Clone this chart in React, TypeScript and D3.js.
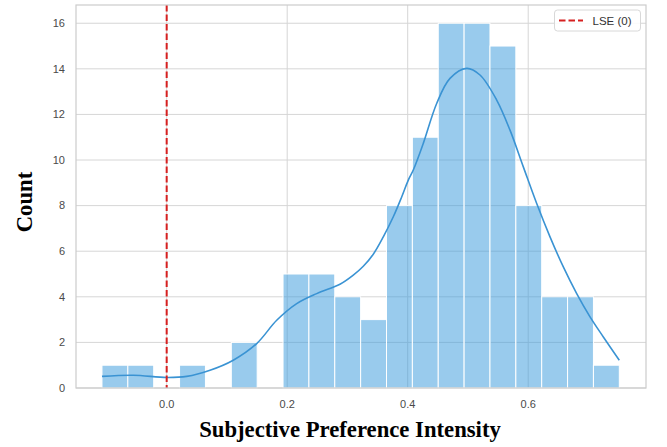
import React, { useRef, useEffect } from 'react';
import * as d3 from 'd3';

// histogram counts (20 equal bins from binStart to binEnd)
const binCounts = [1, 1, 0, 1, 0, 2, 0, 5, 5, 4, 3, 8, 11, 16, 16, 15, 8, 4, 4, 1];
const binStart = -0.1074;
const binEnd = 0.7512;

// KDE curve (scaled to counts)
const kdeX = [
  -0.1074, -0.0554, 0.0, 0.0332, 0.0719, 0.1105, 0.1494, 0.1826, 0.2158, 0.249,
  0.2876, 0.3097, 0.3263, 0.3429, 0.3595, 0.3761, 0.39, 0.401, 0.4093, 0.4259,
  0.4481, 0.4702, 0.4979, 0.52, 0.5477, 0.5698, 0.5919, 0.6141, 0.6362, 0.6583,
  0.6805, 0.7026, 0.7247, 0.7512,
];
const kdeY = [
  0.51, 0.56, 0.46, 0.51, 0.78, 1.22, 1.95, 2.97, 3.7, 4.14,
  4.55, 4.95, 5.34, 5.87, 6.63, 7.51, 8.38, 9.12, 9.56, 10.73,
  12.48, 13.58, 14.02, 13.73, 12.63, 11.31, 9.7, 8.09, 6.63, 5.31,
  4.14, 3.12, 2.24, 1.22,
];

const xTicks = [0.0, 0.2, 0.4, 0.6];
const yTicks = [0, 2, 4, 6, 8, 10, 12, 14, 16];
const lseValue = 0;
const legendLabel = 'LSE (0)';
const xLabel = 'Subjective Preference Intensity';
const yLabel = 'Count';

const W = 667;
const H = 447;
const plot = { left: 76, right: 646, top: 5, bottom: 388 };

const App = () => {
  const svgRef = useRef(null);

  useEffect(() => {
    const svg = d3.select(svgRef.current);
    svg.selectAll('*').remove();

    const x = d3.scaleLinear().domain([-0.1505, 0.7955]).range([plot.left, plot.right]);
    const y = d3.scaleLinear().domain([0, 16.8]).range([plot.bottom, plot.top]);

    const gridColor = '#d6d6d6';
    const tickFont = '"Liberation Sans", Arial, sans-serif';

    // grid
    const grid = svg.append('g').attr('stroke', gridColor).attr('stroke-width', 1);
    grid.selectAll('line.h')
      .data(yTicks)
      .enter()
      .append('line')
      .attr('x1', plot.left)
      .attr('x2', plot.right)
      .attr('y1', d => y(d))
      .attr('y2', d => y(d));
    grid.selectAll('line.v')
      .data(xTicks)
      .enter()
      .append('line')
      .attr('y1', plot.top)
      .attr('y2', plot.bottom)
      .attr('x1', d => x(d))
      .attr('x2', d => x(d));

    // bars
    const bw = (binEnd - binStart) / binCounts.length;
    svg.append('g')
      .selectAll('rect')
      .data(binCounts)
      .enter()
      .append('rect')
      .attr('x', (d, i) => x(binStart + i * bw))
      .attr('width', () => x(binStart + bw) - x(binStart))
      .attr('y', d => y(d))
      .attr('height', d => y(0) - y(d))
      .attr('fill', '#3498db')
      .attr('fill-opacity', d => (d > 0 ? 0.5 : 0))
      .attr('stroke', '#ffffff')
      .attr('stroke-width', 1);

    // kde
    const pts = kdeX.map((v, i) => [v, kdeY[i]]);
    const line = d3.line()
      .x(d => x(d[0]))
      .y(d => y(d[1]))
      .curve(d3.curveCatmullRom);
    svg.append('path')
      .attr('d', line(pts))
      .attr('fill', 'none')
      .attr('stroke', '#3a93d3')
      .attr('stroke-width', 1.6);

    // LSE reference line
    svg.append('line')
      .attr('x1', x(lseValue))
      .attr('x2', x(lseValue))
      .attr('y1', plot.top)
      .attr('y2', plot.bottom)
      .attr('stroke', '#d62020')
      .attr('stroke-width', 2)
      .attr('stroke-dasharray', '6.5,3');

    // frame
    svg.append('rect')
      .attr('x', plot.left)
      .attr('y', plot.top)
      .attr('width', plot.right - plot.left)
      .attr('height', plot.bottom - plot.top)
      .attr('fill', 'none')
      .attr('stroke', '#cccccc')
      .attr('stroke-width', 1.2);

    // tick labels
    svg.append('g')
      .selectAll('text')
      .data(yTicks)
      .enter()
      .append('text')
      .attr('x', 65)
      .attr('y', d => y(d))
      .attr('dy', '0.35em')
      .attr('text-anchor', 'end')
      .style('font-family', tickFont)
      .style('font-size', '11px')
      .attr('fill', '#4a4a4a')
      .text(d => d);

    svg.append('g')
      .selectAll('text')
      .data(xTicks)
      .enter()
      .append('text')
      .attr('x', d => x(d))
      .attr('y', 408)
      .attr('text-anchor', 'middle')
      .style('font-family', tickFont)
      .style('font-size', '11px')
      .attr('fill', '#4a4a4a')
      .text(d => d3.format('.1f')(d));

    // axis titles
    svg.append('text')
      .attr('x', (plot.left + plot.right) / 2 - 11)
      .attr('y', 437)
      .attr('text-anchor', 'middle')
      .style('font-family', '"Liberation Serif", "Times New Roman", serif')
      .style('font-weight', 'bold')
      .style('font-size', '22.7px')
      .attr('fill', '#000')
      .text(xLabel);

    svg.append('text')
      .attr('transform', 'translate(31.5,202) rotate(-90)')
      .attr('text-anchor', 'middle')
      .style('font-family', '"Liberation Serif", "Times New Roman", serif')
      .style('font-weight', 'bold')
      .style('font-size', '22.7px')
      .attr('fill', '#000')
      .text(yLabel);

    // legend
    const lg = svg.append('g');
    lg.append('rect')
      .attr('x', 554.5)
      .attr('y', 10)
      .attr('width', 86)
      .attr('height', 21)
      .attr('rx', 3)
      .attr('fill', '#ffffff')
      .attr('fill-opacity', 0.85)
      .attr('stroke', '#d8d8d8')
      .attr('stroke-width', 1);
    lg.append('line')
      .attr('x1', 559)
      .attr('x2', 583)
      .attr('y1', 20.5)
      .attr('y2', 20.5)
      .attr('stroke', '#d62020')
      .attr('stroke-width', 2)
      .attr('stroke-dasharray', '6.5,3');
    lg.append('text')
      .attr('x', 592.5)
      .attr('y', 24.5)
      .style('font-family', tickFont)
      .style('font-size', '11.5px')
      .attr('fill', '#333')
      .text(legendLabel);
  }, []);

  return (
    <div>
      <style>{'body{margin:0;}'}</style>
      <svg ref={svgRef} width={W} height={H} style={{ display: 'block', background: '#fff' }}></svg>
    </div>
  );
};

export default App;
